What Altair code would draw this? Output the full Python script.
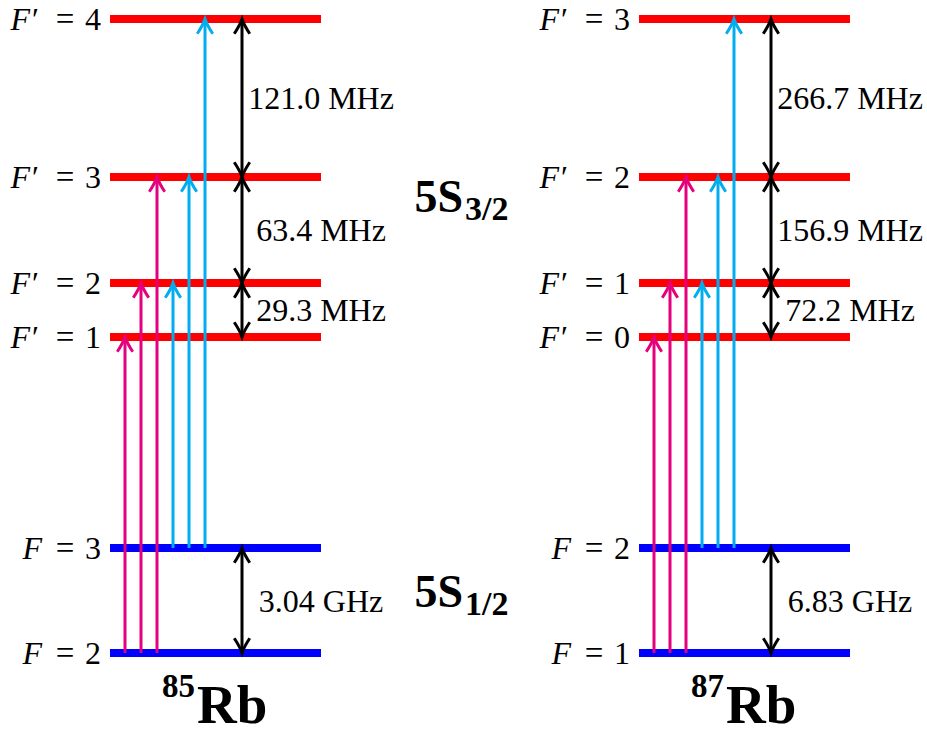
import altair as alt
import pandas as pd

W, H = 927, 736
SERIF = "'Liberation Serif', 'Times New Roman', 'DejaVu Serif', serif"

# ---- level scheme of the Rb D2 line (diagram height units, upward) ----
isotopes = ["85Rb", "87Rb"]
mass_numbers = ["85", "87"]
excited_F = [["1", "2", "3", "4"], ["0", "1", "2", "3"]]
excited_pos = [399, 453, 559, 717]
ground_F = [["2", "3"], ["1", "2"]]
ground_pos = [83, 188]
excited_gaps = [["29.3 MHz", "63.4 MHz", "121.0 MHz"],
                ["72.2 MHz", "156.9 MHz", "266.7 MHz"]]
ground_gaps = ["3.04 GHz", "6.83 GHz"]
# optical transitions as (ground level index, excited level index)
repump_lines = [(0, 0), (0, 1), (0, 2)]
cooling_lines = [(1, 1), (1, 2), (1, 3)]
state_names = [("5S", "3/2"), ("5S", "1/2")]

# ---- drawing geometry ----
panel_left = [110, 639]
level_len = 211
arrow_first, arrow_step = 15, 16
bracket_dx = 132
colors = {"excited": "#ff0000", "ground": "#0000ff",
          "repump": "#e5007d", "cooling": "#00aeef", "gap": "#000000"}

level_rows, arrow_rows, gap_rows = [], [], []
for p, iso in enumerate(isotopes):
    x0 = panel_left[p]
    for F, y in zip(excited_F[p], excited_pos):
        level_rows.append(dict(iso=iso, x=x0, x2=x0 + level_len, y=y,
                               kind="excited", lhs="F\u2032", num=F))
    for F, y in zip(ground_F[p], ground_pos):
        level_rows.append(dict(iso=iso, x=x0, x2=x0 + level_len, y=y,
                               kind="ground", lhs="F", num=F))
    k = 0
    for fam, lines in (("repump", repump_lines), ("cooling", cooling_lines)):
        for g, e in lines:
            arrow_rows.append(dict(iso=iso, x=x0 + arrow_first + arrow_step * k,
                                   y=ground_pos[g], y2=excited_pos[e], fam=fam))
            k += 1
    xb = x0 + bracket_dx
    for i, txt in enumerate(excited_gaps[p]):
        lo, hi = excited_pos[i], excited_pos[i + 1]
        gap_rows.append(dict(iso=iso, x=xb, xt=x0 + level_len, y=lo, y2=hi,
                             ym=(lo + hi) / 2, text=txt))
    lo, hi = ground_pos
    gap_rows.append(dict(iso=iso, x=xb, xt=x0 + level_len, y=lo, y2=hi,
                         ym=(lo + hi) / 2, text=ground_gaps[p]))

levels = pd.DataFrame(level_rows)
arrows = pd.DataFrame(arrow_rows)
gaps = pd.DataFrame(gap_rows)

iso_labels = pd.DataFrame(dict(x=[x + 87 for x in panel_left], sup=mass_numbers,
                               base=["Rb", "Rb"]))
state_labels = pd.DataFrame(dict(x=[463, 463], y=[524, 129],
                                 main=[s[0] for s in state_names],
                                 sub=[s[1] for s in state_names]))

xs = alt.Scale(domain=[0, W], nice=False, zero=False)
ys = alt.Scale(domain=[0, H], nice=False, zero=False)
X = lambda f: alt.X(f, type="quantitative", scale=xs, axis=None)
Y = lambda f: alt.Y(f, type="quantitative", scale=ys, axis=None)
col = alt.Color("fam:N", legend=None,
                scale=alt.Scale(domain=list(colors), range=list(colors.values())))

UP = "M -1 1.9 Q -0.3 0.85 0 0 Q 0.3 0.85 1 1.9"
DOWN = "M -1 -1.9 Q -0.3 -0.85 0 0 Q 0.3 -0.85 1 -1.9"
HEAD = dict(filled=False, size=240, strokeWidth=3, opacity=1)

lv = alt.Chart(levels).transform_calculate(fam="datum.kind", eq="'='")
level_bars = lv.mark_rule(strokeWidth=8).encode(x=X("x"), x2="x2", y=Y("y"), color=col)

ar = alt.Chart(arrows)
shafts = ar.mark_rule(strokeWidth=3, y2Offset=4).encode(x=X("x"), y=Y("y"), y2="y2", color=col)
heads = ar.mark_point(shape=UP, **HEAD).encode(x=X("x"), y=Y("y2"), color=col)

gp = alt.Chart(gaps)
g_shaft = gp.mark_rule(strokeWidth=3, color="black", yOffset=-4, y2Offset=4).encode(
    x=X("x"), y=Y("y"), y2="y2")
g_up = gp.mark_point(shape=UP, color="black", **HEAD).encode(x=X("x"), y=Y("y2"))
g_down = gp.mark_point(shape=DOWN, color="black", **HEAD).encode(x=X("x"), y=Y("y"))
g_text = gp.mark_text(font=SERIF, fontSize=32, align="center", baseline="middle",
                      dy=1, color="black").encode(x=X("xt"), y=Y("ym"), text="text:N")

# level labels: italic F (primed for the excited manifold), "=", quantum number
lab_num = lv.mark_text(font=SERIF, fontSize=32, align="right", baseline="middle",
                       dx=-9, dy=1, color="black").encode(x=X("x"), y=Y("y"), text="num:N")
lab_eq = lv.mark_text(font=SERIF, fontSize=33, align="center", baseline="middle",
                      dx=-45, dy=1, color="black").encode(x=X("x"), y=Y("y"), text="eq:N")
lab_F1 = lv.transform_filter("datum.kind == 'excited'").mark_text(
    font=SERIF, fontSize=32, fontStyle="italic", align="right", baseline="middle",
    dx=-73, dy=1, color="black").encode(x=X("x"), y=Y("y"), text="lhs:N")
lab_F0 = lv.transform_filter("datum.kind == 'ground'").mark_text(
    font=SERIF, fontSize=32, fontStyle="italic", align="right", baseline="middle",
    dx=-68, dy=1, color="black").encode(x=X("x"), y=Y("y"), text="lhs:N")

il = alt.Chart(iso_labels).transform_calculate(yb="13", ys="39")
iso_base = il.mark_text(font=SERIF, fontSize=55, fontWeight="bold", align="left",
                        baseline="alphabetic", color="black").encode(
    x=X("x"), y=Y("yb"), text="base:N")
iso_sup = il.mark_text(font=SERIF, fontSize=33, fontWeight="bold", align="right",
                       baseline="alphabetic", dx=-2, color="black").encode(
    x=X("x"), y=Y("ys"), text="sup:N")

sl = alt.Chart(state_labels)
st_main = sl.mark_text(font=SERIF, fontSize=46, fontWeight="bold", align="right",
                       baseline="alphabetic", color="black").encode(
    x=X("x"), y=Y("y"), text="main:N")
st_sub = sl.mark_text(font=SERIF, fontSize=34, fontWeight="bold", align="left",
                      baseline="alphabetic", dx=2, dy=8, color="black").encode(
    x=X("x"), y=Y("y"), text="sub:N")

chart = alt.layer(
    level_bars, shafts, heads, g_shaft, g_up, g_down, g_text,
    lab_num, lab_eq, lab_F1, lab_F0, iso_base, iso_sup, st_main, st_sub,
).properties(
    width=W, height=H, padding=0, autosize=alt.AutoSizeParams(type="none"),
    background="white",
).configure_view(stroke=None)

chart.save("out.html", embed_options={"renderer": "svg", "actions": False})
